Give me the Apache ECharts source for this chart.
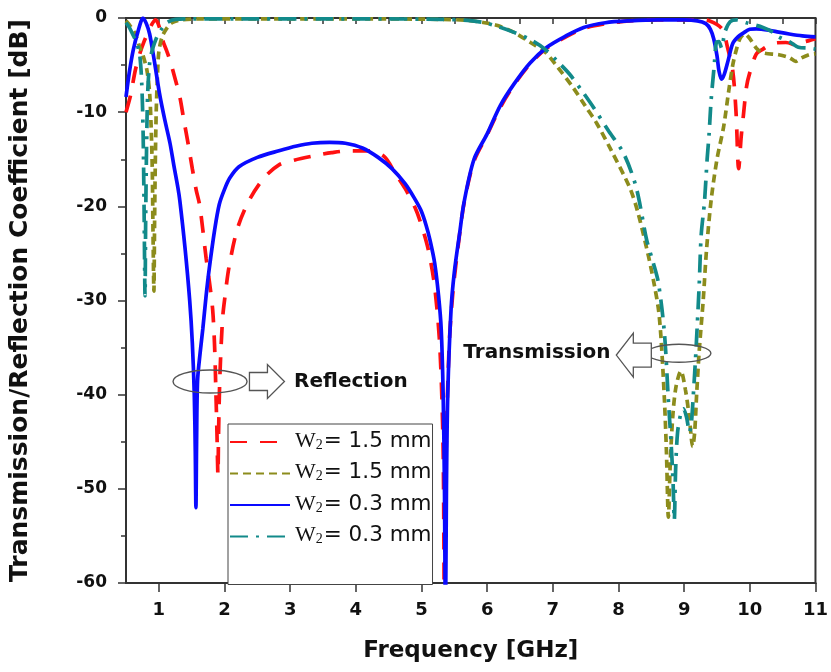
<!DOCTYPE html>
<html>
<head>
<meta charset="utf-8">
<script src="https://cdn.jsdelivr.net/npm/echarts/dist/echarts.min.js"></script>
<style>
  html, body { margin: 0; padding: 0; background: #fff; }
  #chart { width: 831px; height: 672px; }
</style>
</head>
<body>
<div id="chart"></div>
<script>
// ---------- data ----------
// Reflection S11, w2 = 1.5 mm (red dashed)
const s11W15Freq = [0.5,0.57,0.64,0.71,0.78,0.84,0.9,0.95,1.0,1.06,1.12,1.17,1.25,1.32,1.38,1.45,1.51,1.57,1.62,1.67,1.72,1.77,1.82,1.85,1.87,1.885,1.9,1.91,1.93,1.97,2.0,2.07,2.2,2.38,2.6,2.83,3.06,3.39,3.63,3.9,4.18,4.43,4.6,4.75,4.9,4.99,5.1,5.2,5.28,5.33,5.35,5.37,5.42,5.48,5.58,5.65,5.8,6.0,6.2,6.41,6.65,6.91,7.2,7.47,7.8,8.17,8.6,9.0,9.3,9.38,9.5,9.59,9.66,9.74,9.79,9.83,9.87,9.9,9.95,10.0,10.1,10.2,10.35,10.55,10.73,10.8,10.9,11];
const s11W15Db   = [-10,-8.2,-5.6,-3.8,-2.4,-1.5,-0.6,-0.2,-0.8,-2.4,-3.5,-4.5,-6.5,-8.4,-10.8,-13.5,-16,-18.3,-19.8,-22.5,-25.5,-28,-31,-35,-40,-44,-48.5,-44,-38,-32,-30,-26.4,-22.3,-19.3,-17,-15.6,-15.1,-14.6,-14.3,-14.1,-14.1,-14.7,-16.5,-18.1,-20.1,-21.8,-24.5,-28.5,-35,-46,-65,-48,-35,-29,-23,-19.6,-15.2,-12.4,-9.5,-7.1,-4.9,-3.2,-2.0,-1.1,-0.6,-0.3,-0.2,-0.2,-0.2,-0.3,-0.7,-1.3,-3.1,-5.6,-10,-16,-12.5,-10.5,-7.3,-5.8,-3.8,-3.3,-2.7,-2.6,-2.9,-2.6,-2.4,-2.2];

// Transmission S21, w2 = 1.5 mm (olive short dash)
const s21W15Freq = [0.5,0.57,0.64,0.71,0.76,0.82,0.86,0.88,0.9,0.91,0.925,0.935,0.945,0.96,0.98,1.0,1.05,1.12,1.2,1.35,1.6,2.5,3.5,4.5,5.3,5.7,5.96,6.16,6.4,6.66,6.88,7.07,7.3,7.5,7.67,7.9,8.17,8.29,8.46,8.55,8.61,8.65,8.7,8.73,8.76,8.79,8.83,8.88,8.95,9.02,9.08,9.13,9.16,9.19,9.23,9.29,9.34,9.41,9.5,9.6,9.68,9.74,9.79,9.85,9.92,9.99,10.1,10.2,10.44,10.6,10.7,10.77,10.9,11];
const s21W15Db   = [-0.3,-0.9,-1.7,-3.1,-4,-5.6,-8,-11,-16,-22,-29,-22,-16,-10,-6,-3.6,-2,-1.1,-0.5,-0.2,-0.1,-0.1,-0.1,-0.1,-0.15,-0.25,-0.5,-0.8,-1.5,-2.6,-3.6,-5.2,-7.3,-9.4,-11.2,-14.2,-18,-20.5,-25.4,-28.5,-31,-34.2,-40.6,-46,-53,-47,-42,-39,-37.5,-39.5,-42.5,-45.5,-44,-40,-35.3,-30,-24.7,-19.4,-15,-11.6,-7.7,-5,-3.5,-2.2,-1.7,-2.1,-3.2,-3.7,-3.9,-4.2,-4.6,-4.3,-3.9,-3.8];

// Reflection S11, w2 = 0.3 mm (blue solid)
const s11W03Freq = [0.5,0.55,0.61,0.68,0.76,0.81,0.86,0.93,1.01,1.09,1.17,1.23,1.29,1.32,1.4,1.47,1.51,1.54,1.555,1.565,1.575,1.59,1.63,1.67,1.72,1.77,1.85,1.92,2.0,2.08,2.22,2.5,2.83,3.1,3.33,3.6,3.84,4.1,4.34,4.55,4.75,4.88,4.99,5.07,5.13,5.2,5.26,5.3,5.33,5.35,5.365,5.38,5.4,5.45,5.5,5.58,5.65,5.8,6.0,6.2,6.41,6.65,6.91,7.2,7.47,7.8,8.17,8.6,9.0,9.2,9.33,9.4,9.45,9.5,9.53,9.57,9.61,9.67,9.74,9.82,9.9,10.0,10.1,10.3,10.44,10.6,10.8,11];
const s11W03Db   = [-8.4,-5.8,-3.4,-1.5,0,-0.6,-1.7,-4.5,-8.0,-10.8,-13.3,-15.7,-18,-19.4,-24.5,-30,-34.5,-40,-46,-52,-45,-38.5,-35.5,-33,-29.5,-26.5,-22.5,-19.8,-18.2,-17.0,-15.8,-14.8,-14.1,-13.6,-13.3,-13.2,-13.3,-13.8,-14.8,-16,-17.6,-19,-20.4,-22,-23.6,-26,-29.5,-33,-40,-50,-65,-50,-40,-31,-27,-22.9,-19.5,-15,-12.3,-9.3,-7.0,-4.8,-3.1,-1.9,-1.0,-0.5,-0.3,-0.2,-0.2,-0.3,-0.6,-1.2,-2.2,-4,-5.6,-6.5,-6,-4.5,-2.7,-2,-1.6,-1.2,-1.15,-1.3,-1.5,-1.7,-1.9,-2.0];

// Transmission S21, w2 = 0.3 mm (teal dash-dot)
const s21W03Freq = [0.5,0.55,0.6,0.66,0.71,0.74,0.76,0.775,0.79,0.8,0.815,0.83,0.86,0.9,0.97,1.04,1.12,1.25,1.5,2.5,3.5,4.5,5.3,5.7,5.96,6.16,6.4,6.66,6.88,7.07,7.26,7.45,7.62,7.85,8.08,8.27,8.43,8.53,8.61,8.7,8.76,8.8,8.83,8.85,8.87,8.9,8.95,8.99,9.04,9.08,9.11,9.14,9.18,9.23,9.26,9.31,9.35,9.38,9.41,9.46,9.49,9.53,9.57,9.62,9.7,9.8,9.95,10.2,10.35,10.44,10.6,10.74,10.9,11];
const s21W03Db   = [-0.5,-1.0,-1.7,-2.6,-4,-7,-12,-20,-29.5,-21,-13,-8,-4.8,-3.4,-2.0,-1.2,-0.5,-0.15,-0.1,-0.1,-0.1,-0.1,-0.15,-0.25,-0.5,-0.9,-1.5,-2.3,-3.3,-4.6,-6.0,-7.8,-9.5,-12,-14.4,-18,-23.6,-26,-28.2,-33.5,-40.6,-45,-49,-53.3,-48,-44,-42,-41.5,-42.5,-44,-43,-40,-35.3,-28.2,-23,-19.5,-15,-12.3,-8.8,-4.9,-2.6,-2.5,-3.2,-1.5,-0.4,-0.2,-0.5,-1.0,-1.5,-2.0,-2.5,-3.1,-3.2,-3.3];

// legend text values and axis ticks
const seriesNames  = ['S11 w2 1.5', 'S21 w2 1.5', 'S11 w2 0.3', 'S21 w2 0.3'];
const legendValues = ['1.5', '1.5', '0.3', '0.3'];
const xTickValues  = [1, 2, 3, 4, 5, 6, 7, 8, 9, 10, 11];
const yTickValues  = [0, -10, -20, -30, -40, -50, -60];

// ---------- build ----------
function pairs(f, d) { return f.map((x, i) => [x, d[i]]); }
const colors = ['#ff1111', '#8c8c1c', '#0a0aff', '#128a8a'];
const dashes = [[17, 13], [8, 5], 'solid', [18, 8, 3, 8]];
const datasets = [pairs(s11W15Freq, s11W15Db), pairs(s21W15Freq, s21W15Db),
                  pairs(s11W03Freq, s11W03Db), pairs(s21W03Freq, s21W03Db)];

const bold = '"DejaVu Sans", sans-serif';

const chart = echarts.init(document.getElementById('chart'), null, { renderer: 'canvas' });

const option = {
  animation: false,
  backgroundColor: '#fff',
  grid: {
    left: 126, right: 11, top: 18, bottom: 89,
    show: true, borderColor: '#333', borderWidth: 2, backgroundColor: 'transparent'
  },
  xAxis: [{
    type: 'value', min: 0.5, max: 11, interval: 0.5,
    name: 'Frequency [GHz]', nameLocation: 'middle', nameGap: 57,
    nameTextStyle: { fontFamily: bold, fontWeight: 'bold', fontSize: 23, color: '#111' },
    axisLine: { show: true, onZero: false, lineStyle: { color: '#333', width: 2 } },
    axisTick: { show: true, length: 9, lineStyle: { color: '#333', width: 1.5 }, customValues: xTickValues },
    axisLabel: { show: true, margin: 18, customValues: xTickValues,
      fontFamily: bold, fontWeight: 'bold', fontSize: 18, color: '#111' },
    splitLine: { show: false }
  }, {
    type: 'value', min: 0.5, max: 11, interval: 0.5, position: 'bottom', gridIndex: 0,
    axisLine: { show: false },
    axisTick: { show: true, length: 6, lineStyle: { color: '#333', width: 1.5 } },
    axisLabel: { show: false },
    splitLine: { show: false }
  }],
  yAxis: {
    type: 'value', min: -60, max: 0, interval: 10,
    name: 'Transmission/Reflection Coefficient [dB]', nameLocation: 'middle', nameGap: 93,
    nameTextStyle: { fontFamily: bold, fontWeight: 'bold', fontSize: 25, color: '#111' },
    axisLine: { show: true, onZero: false, lineStyle: { color: '#333', width: 2 } },
    axisTick: { show: true, length: 8, lineStyle: { color: '#333', width: 1.5 } },
    minorTick: { show: true, splitNumber: 2, length: 5, lineStyle: { color: '#333', width: 1.5 } },
    axisLabel: { margin: 19, fontFamily: bold, fontWeight: 'bold', fontSize: 17, color: '#111',
      customValues: yTickValues },
    splitLine: { show: false }
  },
  legend: {
    show: true, orient: 'vertical', left: 228, top: 424,
    data: seriesNames,
    itemWidth: 60, itemHeight: 14, itemGap: 9.5,
    padding: [6, 1, 38, 1],
    backgroundColor: '#fff', borderColor: '#444', borderWidth: 1,
    selectedMode: false,
    itemStyle: { opacity: 0 },
    formatter: function (name) {
      const i = seriesNames.indexOf(name);
      return '{w|W}{s|2}{t|= ' + legendValues[i] + ' mm}';
    },
    textStyle: {
      color: '#111', lineHeight: 20,
      rich: {
        w: { fontFamily: '"Liberation Serif", serif', fontSize: 22, lineHeight: 20, verticalAlign: 'bottom', color: '#111' },
        s: { fontFamily: '"Liberation Serif", serif', fontSize: 14, lineHeight: 20, verticalAlign: 'bottom', color: '#111', padding: [0, 1, 0, 0] },
        t: { fontFamily: '"DejaVu Sans", sans-serif', fontSize: 21.5, lineHeight: 20, verticalAlign: 'bottom', color: '#111' }
      }
    }
  },
  series: seriesNames.map((n, i) => ({
    name: n, type: 'line', data: datasets[i], xAxisIndex: 0, yAxisIndex: 0,
    showSymbol: false, symbol: 'none', smooth: 0.3, clip: true,
    lineStyle: { color: colors[i], width: 3.7, type: dashes[i], cap: 'butt' },
    itemStyle: { color: colors[i] },
    z: 2 + i
  }))
};
chart.setOption(option);

// ---------- annotations (anchored in data coordinates) ----------
const reflEllipse  = [1.78, -38.6];
const reflArrow    = [2.38, -38.6];
const reflLabel    = [3.06, -38.6];
const transEllipse = [8.92, -35.6];
const transArrow   = [8.5, -35.8];
const transLabel   = [7.88, -35.6];

function px(p) { return chart.convertToPixel({ gridIndex: 0 }, p); }
const e1 = px(reflEllipse), a1 = px(reflArrow), l1 = px(reflLabel);
const e2 = px(transEllipse), a2 = px(transArrow), l2 = px(transLabel);

function arrowRight(x, y) {
  return [[x, y - 9], [x + 18, y - 9], [x + 18, y - 17], [x + 35, y], [x + 18, y + 17], [x + 18, y + 9], [x, y + 9]];
}
function arrowLeft(x, y) {
  return [[x, y - 12], [x - 18, y - 12], [x - 18, y - 22], [x - 35, y], [x - 18, y + 22], [x - 18, y + 12], [x, y + 12]];
}
const annStroke = { fill: 'none', stroke: '#555', lineWidth: 1.4 };
chart.setOption({
  graphic: [
    { type: 'ellipse', z: 50, shape: { cx: e1[0], cy: e1[1], rx: 37, ry: 11.5 }, style: annStroke },
    { type: 'polygon', z: 50, shape: { points: arrowRight(a1[0], a1[1]) }, style: { fill: '#fff', stroke: '#555', lineWidth: 1.3 } },
    { type: 'text', z: 50, x: l1[0], y: l1[1], style: { text: 'Reflection', font: 'bold 20px "DejaVu Sans"', fill: '#111', align: 'left', verticalAlign: 'middle' } },
    { type: 'ellipse', z: 50, shape: { cx: e2[0], cy: e2[1], rx: 32, ry: 9 }, style: annStroke },
    { type: 'polygon', z: 50, shape: { points: arrowLeft(a2[0], a2[1]) }, style: { fill: '#fff', stroke: '#555', lineWidth: 1.3 } },
    { type: 'text', z: 50, x: l2[0], y: l2[1], style: { text: 'Transmission', font: 'bold 20px "DejaVu Sans"', fill: '#111', align: 'right', verticalAlign: 'middle' } }
  ]
});
</script>
</body>
</html>
